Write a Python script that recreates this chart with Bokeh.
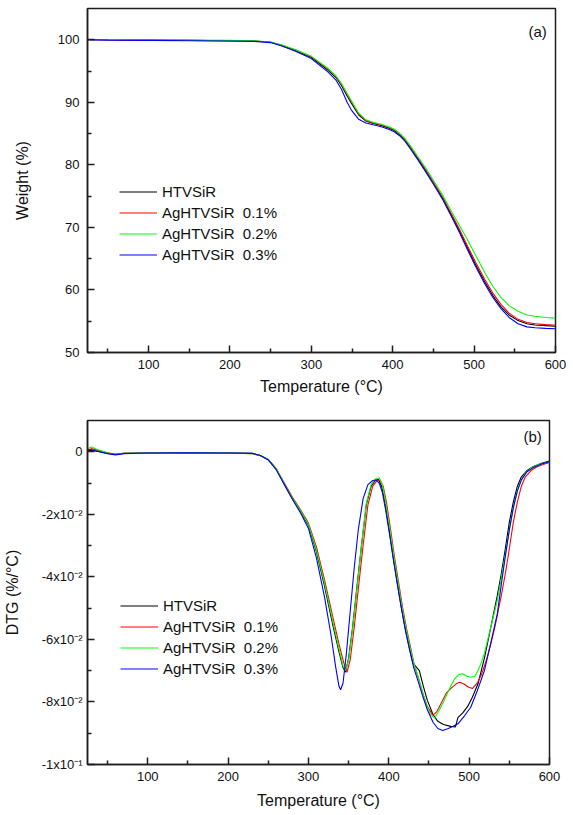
from bokeh.plotting import figure
from bokeh.models import Range1d, FixedTicker, Label
from bokeh.layouts import column
from bokeh.embed import file_html
from bokeh.resources import INLINE

FONT = "Liberation Sans"

# ---------------- data ----------------
series_names = ["HTVSiR", "AgHTVSiR  0.1%", "AgHTVSiR  0.2%", "AgHTVSiR  0.3%"]
series_colors = ["#000000", "#ff0000", "#00ff00", "#0000ff"]

x_ticks = [100, 200, 300, 400, 500, 600]
x_minor_ticks = [50, 150, 250, 350, 450, 550]

# (a) TGA: weight (%)
tga_temp = [25, 50, 100, 150, 200, 230, 250, 263, 280, 300, 320, 330, 337, 344, 349,
            358, 367, 376, 386, 395, 402, 408, 415, 422, 431, 441, 451, 462, 472, 482,
            492, 502, 513, 523, 533, 543, 554, 565, 575, 588, 600]
tga_htvsir = [100.0, 100.0, 99.95, 99.9, 99.85, 99.8, 99.6, 99.1, 98.3, 97.2, 95.2, 94.0, 92.7, 91.0, 89.9,
              88.0, 87.0, 86.6, 86.3, 85.9, 85.5, 84.9, 84.0, 82.7, 81.0, 79.0, 76.9, 74.5, 72.0, 69.4,
              66.7, 64.0, 61.3, 59.1, 57.3, 56.0, 55.1, 54.6, 54.4, 54.3, 54.2]
tga_ag01 = [100.0, 100.0, 99.95, 99.9, 99.85, 99.8, 99.6, 99.15, 98.4, 97.3, 95.4, 94.2, 92.9, 91.3, 90.2,
            88.2, 87.1, 86.7, 86.4, 86.0, 85.6, 85.0, 84.1, 82.8, 81.1, 79.1, 77.0, 74.7, 72.2, 69.7,
            67.0, 64.4, 61.7, 59.5, 57.7, 56.3, 55.3, 54.8, 54.6, 54.45, 54.35]
tga_ag02 = [100.05, 100.05, 100.0, 99.95, 99.9, 99.85, 99.65, 99.2, 98.45, 97.35, 95.45, 94.25, 93.0, 91.4, 90.3,
            88.3, 87.2, 86.8, 86.5, 86.1, 85.7, 85.1, 84.2, 83.0, 81.3, 79.4, 77.3, 75.0, 72.6, 70.3,
            68.0, 65.5, 62.8, 60.6, 58.8, 57.5, 56.6, 56.0, 55.8, 55.6, 55.5]
tga_ag03 = [100.0, 99.95, 99.9, 99.85, 99.8, 99.75, 99.55, 99.05, 98.2, 97.0, 94.9, 93.6, 92.1, 90.0, 88.8,
            87.3, 86.7, 86.4, 86.1, 85.7, 85.3, 84.7, 83.8, 82.5, 80.8, 78.8, 76.7, 74.3, 71.8, 69.2,
            66.4, 63.7, 61.0, 58.8, 57.0, 55.6, 54.6, 54.1, 53.95, 53.85, 53.8]
y1_ticks = [50, 60, 70, 80, 90, 100]
y1_minor_ticks = [55, 65, 75, 85, 95]

# (b) DTG (%/°C)
dtg_t_htvsir = [25, 30, 40, 50, 60, 70, 100, 150, 200, 230, 240, 250, 260, 270, 280, 290, 300, 310, 320, 330,
                338, 343, 346, 350, 355, 360, 366, 372, 378, 383, 387, 391, 395, 400, 405, 410, 415, 420, 425,
                430, 434, 438, 443, 448, 455, 461, 468, 477, 483, 486, 492, 498, 504, 511, 519, 527, 535, 540,
                545, 550, 555, 560, 565, 572, 580, 590, 600]
dtg_v_htvsir = [0.0003, 0.0005, 0.0, -0.0005, -0.0008, -0.0005, -0.0004, -0.0003, -0.0004, -0.0005, -0.0012,
                -0.0025, -0.0055, -0.0105, -0.0150, -0.0190, -0.0235, -0.0320, -0.0430, -0.0550, -0.0640,
                -0.0690, -0.0705, -0.0660, -0.0560, -0.0440, -0.0300, -0.0170, -0.0110, -0.0092, -0.0088,
                -0.0110, -0.0160, -0.0240, -0.0330, -0.0410, -0.0490, -0.0560, -0.0620, -0.0675, -0.0688,
                -0.0700, -0.0750, -0.0795, -0.0840, -0.0862, -0.0872, -0.0878, -0.0880, -0.0850, -0.0835,
                -0.0815, -0.0785, -0.0742, -0.0660, -0.0561, -0.0460, -0.0390, -0.0310, -0.0225, -0.0160,
                -0.0110, -0.0080, -0.0060, -0.0047, -0.0037, -0.0030]

dtg_t_ag01 = [25, 30, 40, 50, 60, 70, 100, 150, 200, 230, 240, 250, 260, 270, 280, 290, 300, 310, 320, 330,
              338, 344, 348, 352, 357, 362, 368, 374, 380, 385, 389, 393, 397, 402, 407, 412, 417, 422, 427,
              432, 437, 442, 448, 455, 460, 466, 472, 478, 484, 488, 493, 499, 504, 510, 515, 521, 527, 532,
              540, 545, 550, 555, 560, 565, 570, 577, 585, 595, 600]
dtg_v_ag01 = [0.0005, 0.0010, 0.0003, -0.0003, -0.0008, -0.0005, -0.0004, -0.0003, -0.0004, -0.0006, -0.0012,
              -0.0025, -0.0055, -0.0100, -0.0145, -0.0185, -0.0228, -0.0305, -0.0410, -0.0525, -0.0615,
              -0.0675, -0.0705, -0.0665, -0.0560, -0.0440, -0.0300, -0.0170, -0.0110, -0.0093, -0.0090,
              -0.0110, -0.0160, -0.0245, -0.0335, -0.0415, -0.0495, -0.0565, -0.0625, -0.0685, -0.0725,
              -0.0770, -0.0815, -0.0843, -0.0830, -0.0800, -0.0770, -0.0755, -0.0742, -0.0737, -0.0742,
              -0.0752, -0.0757, -0.0740, -0.0715, -0.0670, -0.0614, -0.0561, -0.0460, -0.0390, -0.0310,
              -0.0225, -0.0160, -0.0110, -0.0080, -0.0060, -0.0047, -0.0038, -0.0034]

dtg_t_ag02 = [25, 30, 35, 45, 55, 62, 70, 100, 150, 200, 230, 240, 250, 260, 270, 280, 290, 300, 310, 320,
              330, 338, 343, 346, 350, 355, 360, 366, 372, 378, 383, 388, 392, 396, 401, 406, 411, 416, 421,
              426, 431, 436, 441, 447, 452, 457, 462, 469, 476, 482, 487, 492, 497, 502, 507, 511, 515, 519,
              527, 535, 540, 545, 550, 555, 560, 565, 570, 577, 585, 600]
dtg_v_ag02 = [0.0010, 0.0015, 0.0010, 0.0000, -0.0007, -0.0008, -0.0005, -0.0004, -0.0003, -0.0004, -0.0006,
              -0.0012, -0.0025, -0.0055, -0.0102, -0.0148, -0.0188, -0.0232, -0.0315, -0.0420, -0.0540,
              -0.0630, -0.0685, -0.0700, -0.0665, -0.0565, -0.0445, -0.0300, -0.0165, -0.0105, -0.0088,
              -0.0083, -0.0105, -0.0160, -0.0240, -0.0330, -0.0410, -0.0490, -0.0560, -0.0620, -0.0675,
              -0.0715, -0.0760, -0.0810, -0.0840, -0.0852, -0.0830, -0.0795, -0.0755, -0.0726, -0.0712,
              -0.0710, -0.0718, -0.0721, -0.0718, -0.0700, -0.0675, -0.0645, -0.0560, -0.0476, -0.0405,
              -0.0330, -0.0250, -0.0180, -0.0125, -0.0090, -0.0068, -0.0052, -0.0042, -0.0032]

dtg_t_ag03 = [25, 30, 40, 50, 60, 70, 100, 150, 200, 230, 240, 250, 260, 270, 280, 290, 300, 310, 320, 328,
              334, 338, 340, 343, 347, 352, 357, 362, 368, 374, 380, 384, 388, 392, 396, 401, 406, 411, 416,
              421, 426, 431, 436, 442, 448, 455, 461, 467, 474, 480, 486, 494, 502, 510, 519, 527, 535, 540,
              545, 550, 555, 560, 565, 572, 580, 590, 600]
dtg_v_ag03 = [0.0008, 0.0006, 0.0000, -0.0006, -0.0010, -0.0006, -0.0004, -0.0003, -0.0004, -0.0005, -0.0012,
              -0.0026, -0.0058, -0.0105, -0.0152, -0.0195, -0.0245, -0.0340, -0.0465, -0.0585, -0.0690,
              -0.0750, -0.0761, -0.0740, -0.0650, -0.0510, -0.0370, -0.0250, -0.0150, -0.0105, -0.0092,
              -0.0090, -0.0100, -0.0130, -0.0185, -0.0265, -0.0350, -0.0430, -0.0505, -0.0575, -0.0635,
              -0.0690, -0.0730, -0.0780, -0.0825, -0.0865, -0.0885, -0.0891, -0.0885, -0.0878, -0.0870,
              -0.0845, -0.0817, -0.0765, -0.0700, -0.0610, -0.0519, -0.0425, -0.0335, -0.0250, -0.0178,
              -0.0125, -0.0090, -0.0064, -0.0050, -0.0039, -0.0032]

y2_ticks = [-0.1, -0.08, -0.06, -0.04, -0.02, 0.0]
y2_tick_labels = ["-1x10\u207b\u00b9", "-8x10\u207b\u00b2", "-6x10\u207b\u00b2", "-4x10\u207b\u00b2",
                  "-2x10\u207b\u00b2", "0"]
y2_minor_ticks = [-0.09, -0.07, -0.05, -0.03, -0.01]

AX_COLOR = "#1e1e1e"


def style(p):
    p.outline_line_color = AX_COLOR
    p.outline_line_width = 1.5
    p.xgrid.visible = False
    p.ygrid.visible = False
    p.background_fill_color = "white"
    p.border_fill_color = "white"
    for ax in [p.xaxis[0], p.yaxis[0]]:
        ax.axis_line_color = AX_COLOR
        ax.axis_line_width = 1.5
        ax.major_tick_line_color = AX_COLOR
        ax.minor_tick_line_color = AX_COLOR
        ax.major_tick_line_width = 1.5
        ax.minor_tick_line_width = 1.5
        ax.major_tick_in = 7
        ax.major_tick_out = 0
        ax.minor_tick_in = 4
        ax.minor_tick_out = 0
        ax.major_label_text_font = FONT
        ax.major_label_text_font_size = "13px"
        ax.major_label_text_color = "#111111"
        ax.axis_label_text_font = FONT
        ax.axis_label_text_font_size = "16px"
        ax.axis_label_text_font_style = "normal"
        ax.axis_label_text_color = "#111111"
    p.xaxis[0].ticker = FixedTicker(ticks=x_ticks, minor_ticks=x_minor_ticks)


def style_legend(p, loc, h):
    lg = p.legend[0]
    lg.location = loc
    lg.border_line_color = None
    lg.background_fill_alpha = 0
    lg.padding = 0
    lg.margin = 0
    lg.spacing = 0
    lg.glyph_width = 38
    lg.glyph_height = h
    lg.label_height = h
    lg.label_standoff = 5
    lg.label_text_font = FONT
    lg.label_text_font_size = "15px"
    lg.label_text_color = "#111111"


# ---------------- panel (a) ----------------
p1 = figure(width=569, height=412, output_backend="svg", toolbar_location=None,
            x_range=Range1d(25, 600), y_range=Range1d(50, 105),
            min_border_left=85, min_border_right=14, min_border_top=8, min_border_bottom=60)
style(p1)
p1.yaxis[0].ticker = FixedTicker(ticks=y1_ticks, minor_ticks=y1_minor_ticks)
p1.xaxis[0].axis_label = "Temperature (°C)"
p1.yaxis[0].axis_label = "Weight (%)"
p1.xaxis[0].major_label_standoff = 7
p1.xaxis[0].axis_label_standoff = 6
p1.yaxis[0].major_label_standoff = 8
p1.yaxis[0].axis_label_standoff = 24

for name, col, ys in zip(series_names, series_colors, [tga_htvsir, tga_ag01, tga_ag02, tga_ag03]):
    p1.line(tga_temp, ys, line_color=col, line_width=1.1, legend_label=name)
style_legend(p1, (32, 87), 21)
p1.add_layout(Label(x=578, y=101.4, text="(a)", text_align="center", text_baseline="middle",
                    text_font=FONT, text_font_size="15px", text_color="#111111"))

# ---------------- panel (b) ----------------
p2 = figure(width=563, height=403, output_backend="svg", toolbar_location=None,
            x_range=Range1d(25, 600), y_range=Range1d(-0.1, 0.01),
            min_border_left=83, min_border_right=14, min_border_top=8, min_border_bottom=51)
style(p2)
p2.yaxis[0].ticker = FixedTicker(ticks=y2_ticks, minor_ticks=y2_minor_ticks)
p2.yaxis[0].major_label_overrides = dict(zip(y2_ticks, y2_tick_labels))
p2.xaxis[0].axis_label = "Temperature (°C)"
p2.yaxis[0].axis_label = "DTG (%/°C)"
p2.xaxis[0].major_label_standoff = 7
p2.xaxis[0].axis_label_standoff = 8
p2.yaxis[0].major_label_standoff = 5
p2.yaxis[0].axis_label_standoff = 18

dtg_sets = [(dtg_t_htvsir, dtg_v_htvsir), (dtg_t_ag01, dtg_v_ag01),
            (dtg_t_ag02, dtg_v_ag02), (dtg_t_ag03, dtg_v_ag03)]
for name, col, (ts, vs) in zip(series_names, series_colors, dtg_sets):
    p2.line(ts, vs, line_color=col, line_width=1.1, legend_label=name)
style_legend(p2, (33, 85), 21)
p2.add_layout(Label(x=579, y=0.005, text="(b)", text_align="center", text_baseline="middle",
                    text_font=FONT, text_font_size="15px", text_color="#111111"))

layout = column(p1, p2)
open("out.html", "w").write(file_html(layout, INLINE))
